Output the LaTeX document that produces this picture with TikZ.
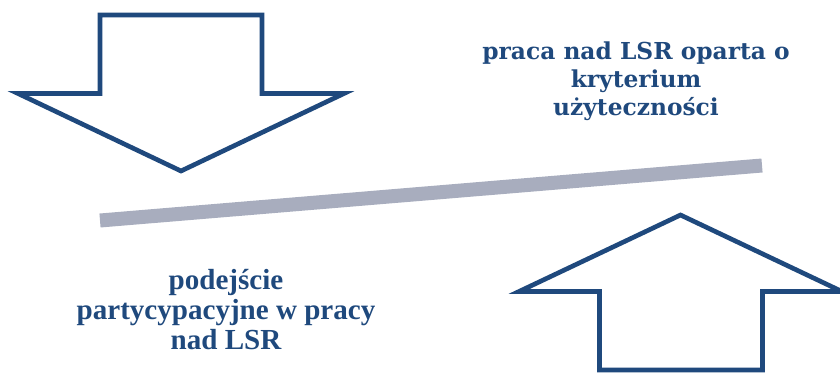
\documentclass[tikz,border=0pt]{standalone}
\usepackage{fontspec}
\usepackage{tikz}
\usepackage{xcolor}
\newfontfamily\cambriafont{DejaVu Serif}
\newfontfamily\timesfont{Liberation Serif}
\definecolor{lsrblue}{RGB}{31,73,125}
\definecolor{bargray}{RGB}{168,173,190}
\tikzset{
    bigarrow/.style={draw=lsrblue, line width=3.5pt, fill=white},
    balancebar/.style={draw=bargray, line width=10.5pt},
    uppertext/.style={text=lsrblue, align=center, inner sep=0pt, font=\cambriafont\bfseries\fontsize{17.5}{21}\selectfont},
    lowertext/.style={text=lsrblue, align=center, inner sep=0pt, font=\timesfont\bfseries\fontsize{21.8}{22.5}\selectfont}
}

\begin{document}
\begin{tikzpicture}[x=0.75pt,y=0.75pt,yscale=-1,xscale=1]
    \useasboundingbox (0,0) rectangle (840,372);

    %Down Arrow
    \draw [bigarrow] (100,15) -- (262,15) -- (262,93.5) -- (344,93.5) -- (181,171) -- (18,93.5) -- (100,93.5) -- cycle ;
    %Up Arrow
    \draw [bigarrow] (599.5,370) -- (599.5,291.5) -- (519,291.5) -- (680.5,215) -- (842,291.5) -- (762.5,291.5) -- (762.5,370) -- cycle ;

    % Bar
    \coordinate (barleft) at (100,220.5);
    \coordinate (barright) at (762,165.5);
    \draw [balancebar] (barleft) -- (barright) ;

    % Text Node
    \node (utility) at (636,81) [uppertext] {praca nad LSR oparta o\\kryterium\\użyteczności};
    % Text Node
    \node (participation) at (226,310) [lowertext] {podejście\\partycypacyjne w pracy\\nad LSR};

\end{tikzpicture}
\end{document}
